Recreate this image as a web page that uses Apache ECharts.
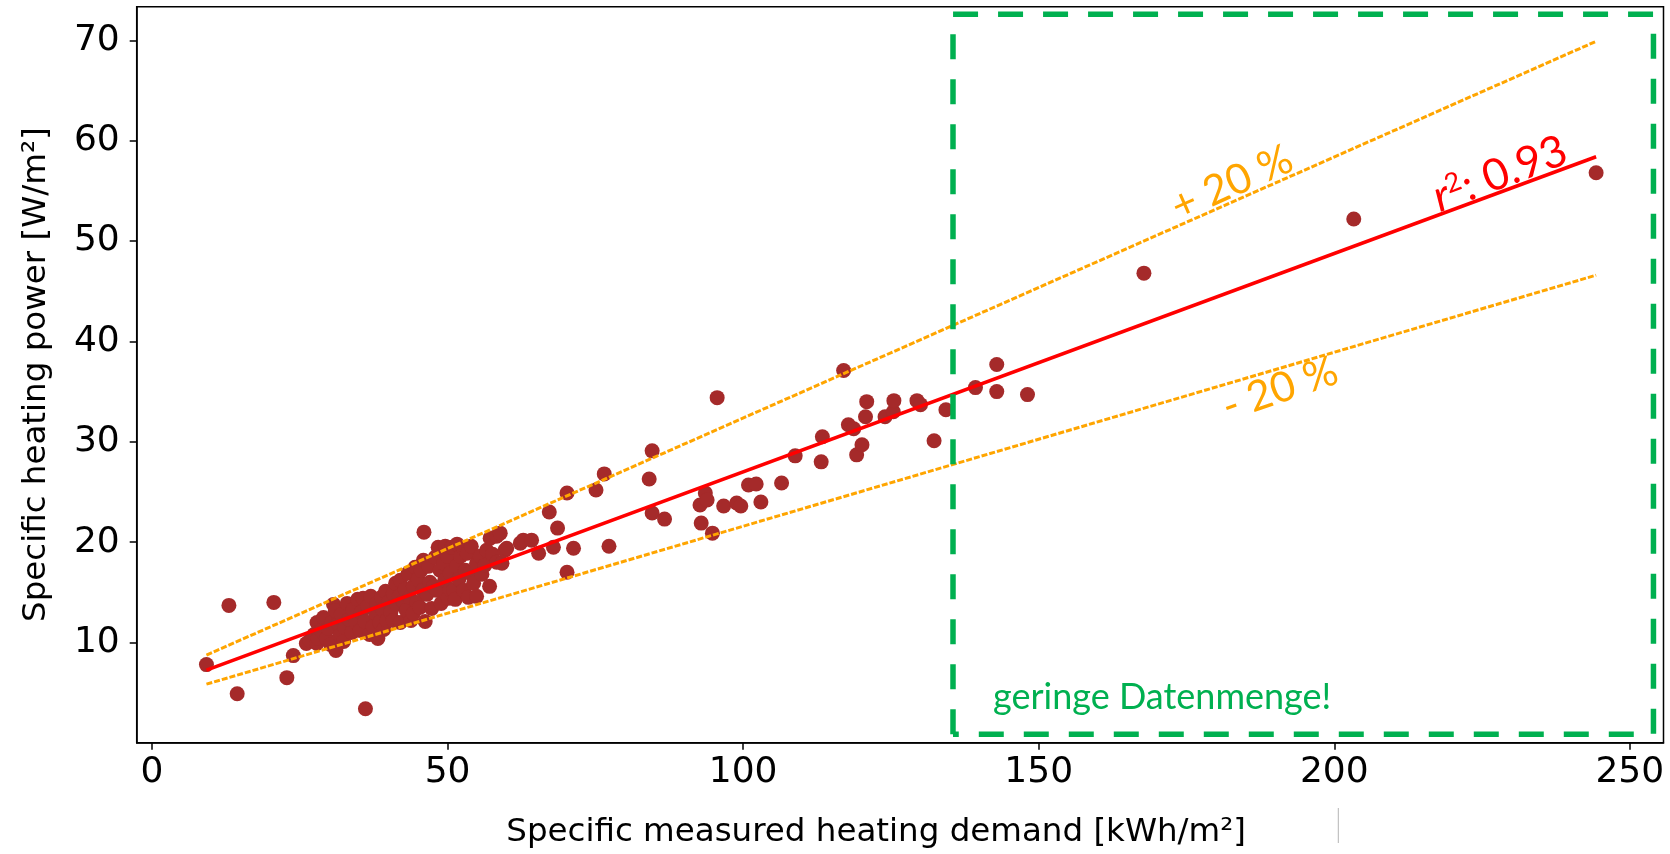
<!DOCTYPE html>
<html>
<head>
<meta charset="utf-8">
<title>Specific heating power</title>
<script src="https://cdn.jsdelivr.net/npm/echarts@6.0.0/dist/echarts.min.js"></script>
<style>
  html, body { margin: 0; padding: 0; background: #fff; }
  #main { width: 1670px; height: 854px; }
</style>
</head>
<body>
<div id="main"></div>
<script>
// buildings: [specific measured heating demand kWh/m², specific heating power W/m²]
const buildings = [
  [9.2, 7.8], [13.0, 13.7], [14.4, 4.9], [20.6, 14.0], [22.8, 6.5], [23.9, 8.7], [36.1, 3.4], [46.0, 21.0],
  [26.1, 9.9], [26.7, 10.2], [27.4, 10.8], [27.9, 9.9], [28.1, 10.4], [27.9, 12.0], [28.6, 11.2], [29.0, 12.5],
  [29.5, 10.4], [29.8, 11.4], [30.2, 9.8], [30.4, 12.0], [30.7, 13.8], [31.0, 13.2], [31.1, 9.2], [31.5, 11.9],
  [31.8, 10.7], [32.0, 12.8], [32.4, 10.1], [32.6, 11.5],
  [33.0, 13.9], [33.3, 12.3], [33.8, 11.0], [34.0, 13.3], [34.5, 12.0], [34.8, 14.3], [35.2, 11.2], [35.4, 13.0],
  [35.7, 14.4], [36.0, 12.1], [36.5, 13.6], [36.8, 10.8], [37.0, 14.6], [37.4, 11.6], [37.8, 12.9], [38.0, 13.9],
  [38.2, 10.4], [38.5, 12.0], [38.8, 14.5],
  [39.0, 13.3], [39.2, 11.3], [39.5, 15.1], [39.7, 12.2], [40.0, 14.0], [40.4, 13.0], [40.8, 14.9], [40.8, 12.2],
  [41.2, 15.9], [41.4, 13.8], [41.8, 14.6], [42.0, 16.2], [42.0, 12.0], [42.5, 14.1], [42.8, 15.3], [43.0, 13.2],
  [43.3, 16.9], [43.6, 14.5], [43.8, 12.2], [44.2, 15.6], [44.5, 17.5], [44.2, 12.9], [44.8, 14.0],
  [45.0, 16.3], [45.3, 13.5], [45.5, 17.2], [45.9, 18.2], [45.8, 15.2], [46.2, 12.1], [46.5, 14.8], [46.8, 17.6],
  [47.0, 16.0], [47.3, 13.4], [47.6, 15.6], [47.9, 18.5], [48.2, 15.2], [48.4, 19.5], [48.7, 17.2], [48.9, 13.9],
  [49.3, 17.9], [49.5, 16.2], [49.6, 19.6], [50.0, 18.6], [50.1, 14.4], [50.4, 16.9], [50.4, 15.3], [50.7, 19.5],
  [51.0, 15.2], [51.3, 14.3], [51.5, 17.6], [51.6, 19.8], [51.9, 16.3], [52.2, 18.6], [52.7, 15.2], [52.7, 19.4],
  [53.0, 17.2], [53.3, 18.9], [53.5, 14.5], [53.8, 16.9], [54.0, 19.6], [54.4, 15.9], [54.9, 14.6], [54.9, 17.9],
  [55.5, 18.6], [55.8, 16.8], [56.3, 17.7], [56.6, 19.2],
  [57.1, 15.6], [57.2, 20.4], [57.6, 18.8], [58.3, 20.6], [58.3, 18.0], [58.9, 20.9], [59.2, 17.9], [59.7, 19.2],
  [60.0, 19.4],
  [62.3, 19.9], [62.8, 20.2], [64.2, 20.2], [65.4, 18.9], [67.2, 23.0], [67.9, 19.5], [68.6, 21.4], [70.2, 24.9],
  [70.2, 17.0], [71.3, 19.4], [75.1, 25.2], [76.5, 26.8], [77.3, 19.6], [84.1, 26.3], [84.6, 29.1], [84.6, 22.9],
  [86.7, 22.3], [92.7, 23.7], [92.9, 21.9], [93.6, 24.9], [93.9, 24.2], [94.8, 20.9], [95.6, 34.4], [96.7, 23.6],
  [98.9, 23.9], [99.6, 23.6], [100.9, 25.7], [102.2, 25.8], [103.0, 24.0], [106.5, 25.9], [108.8, 28.6], [113.2, 28.0],
  [113.4, 30.5], [117.0, 37.1], [117.8, 31.7], [118.7, 31.3], [119.2, 28.7], [120.1, 29.7], [120.7, 32.5], [120.9, 34.0],
  [124.0, 32.5], [125.4, 33.0], [125.5, 34.1], [129.4, 34.1], [130.0, 33.7], [132.3, 30.1], [134.3, 33.2],
  [139.3, 35.4], [142.9, 37.7], [142.9, 35.0], [148.1, 34.7], [167.8, 46.8], [203.3, 52.2], [244.3, 56.8]
];

// regression line and the +/- 20 % band, read at both ends
const fitX = [9.2, 244.3];
const fitY = [7.25, 58.4];
const plusY = [8.75, 69.9];
const minusY = [5.85, 46.6];

// "geringe Datenmenge!" frame, drawn from bottom left going clockwise
const boxX = [135.5, 135.5, 254.0, 254.0, 135.5];
const boxY = [0.87, 72.6, 72.6, 0.87, 0.87];

const xTicks = [0, 50, 100, 150, 200, 250];
const yTicks = [10, 20, 30, 40, 50, 60, 70];

const pairs = (xs, ys) => xs.map((x, i) => [x, ys[i]]);
const deg = a => a * Math.PI / 180;

const font = 'DejaVu Sans';

const option = {
  animation: false,
  backgroundColor: '#fff',
  grid: {
    left: 136.7,
    top: 6.7,
    width: 1526.8,
    height: 736,
    show: true,
    borderColor: '#000',
    borderWidth: 1.5,
    backgroundColor: 'transparent',
    containLabel: false,
    outerBoundsMode: 'none'
  },
  xAxis: {
    type: 'value',
    min: -2.6,
    max: 255.7,
    splitLine: { show: false },
    axisLine: { show: true, onZero: false, lineStyle: { color: '#000', width: 1.5 } },
    axisTick: { show: true, inside: false, length: 7, customValues: xTicks, lineStyle: { color: '#000', width: 1.5 } },
    axisLabel: { customValues: xTicks, color: '#000', fontFamily: font, fontSize: 36, margin: 12 },
    name: 'Specific measured heating demand [kWh/m²]',
    nameLocation: 'middle',
    nameGap: 73,
    nameTextStyle: { color: '#000', fontFamily: font, fontSize: 32.5, padding: [0, 48, 0, 0] }
  },
  yAxis: {
    type: 'value',
    min: 0.02,
    max: 73.35,
    splitLine: { show: false },
    axisLine: { show: true, onZero: false, lineStyle: { color: '#000', width: 1.5 } },
    axisTick: { show: true, inside: false, length: 7, customValues: yTicks, lineStyle: { color: '#000', width: 1.5 } },
    axisLabel: { customValues: yTicks, color: '#000', fontFamily: font, fontSize: 36, margin: 17 },
    name: 'Specific heating power [W/m²]',
    nameLocation: 'middle',
    nameGap: 84,
    nameTextStyle: { color: '#000', fontFamily: font, fontSize: 32.5 }
  },
  series: [
    {
      name: 'buildings',
      type: 'scatter',
      data: buildings,
      symbolSize: 15,
      itemStyle: { color: '#A52A2A', opacity: 1 },
      silent: true,
      z: 2
    },
    {
      name: '+20 %',
      type: 'line',
      data: pairs(fitX, plusY),
      symbol: 'none',
      lineStyle: { color: '#FFA500', width: 3, type: [6, 2] },
      silent: true,
      z: 3
    },
    {
      name: '-20 %',
      type: 'line',
      data: pairs(fitX, minusY),
      symbol: 'none',
      lineStyle: { color: '#FFA500', width: 3, type: [6, 2] },
      silent: true,
      z: 3
    },
    {
      name: 'fit',
      type: 'line',
      data: pairs(fitX, fitY),
      symbol: 'none',
      lineStyle: { color: '#FF0000', width: 3.5 },
      silent: true,
      z: 4
    },
    {
      name: 'box',
      type: 'line',
      data: pairs(boxX, boxY),
      symbol: 'none',
      lineStyle: { color: '#00B050', width: 5.5, type: [25, 20] },
      silent: true,
      z: 5
    }
  ],
  graphic: [
    {
      type: 'text', x: 1232, y: 183, rotation: deg(24), z: 10,
      style: { text: '+ 20 %', fill: '#FFA500', fontFamily: 'Lato', fontSize: 42, align: 'center', verticalAlign: 'middle' }
    },
    {
      type: 'text', x: 1280, y: 389, rotation: deg(19), z: 10,
      style: { text: '- 20 %', fill: '#FFA500', fontFamily: 'Lato', fontSize: 42, align: 'center', verticalAlign: 'middle' }
    },
    {
      type: 'text', x: 1500, y: 174, rotation: deg(21), z: 10,
      style: {
        text: '{i|r}{s|2}{n|: 0.93}',
        align: 'center', verticalAlign: 'middle',
        rich: {
          i: { fill: '#FF0000', fontFamily: 'Lato', fontSize: 44, fontStyle: 'italic', lineHeight: 44 },
          s: { fill: '#FF0000', fontFamily: 'Lato', fontSize: 27, verticalAlign: 'top', lineHeight: 44 },
          n: { fill: '#FF0000', fontFamily: 'Lato', fontSize: 44, lineHeight: 44 }
        }
      }
    },
    {
      type: 'text', x: 993, y: 697, z: 10,
      style: { text: 'geringe Datenmenge!', fill: '#00B050', fontFamily: 'Lato', fontSize: 36, align: 'left', verticalAlign: 'middle' }
    },
    {
      type: 'line', z: 10,
      shape: { x1: 1338.3, y1: 808, x2: 1338.3, y2: 843 },
      style: { stroke: '#B5B5B5', lineWidth: 1 }
    }
  ]
};

const myChart = echarts.init(document.getElementById('main'));
myChart.setOption(option);
</script>
</body>
</html>
